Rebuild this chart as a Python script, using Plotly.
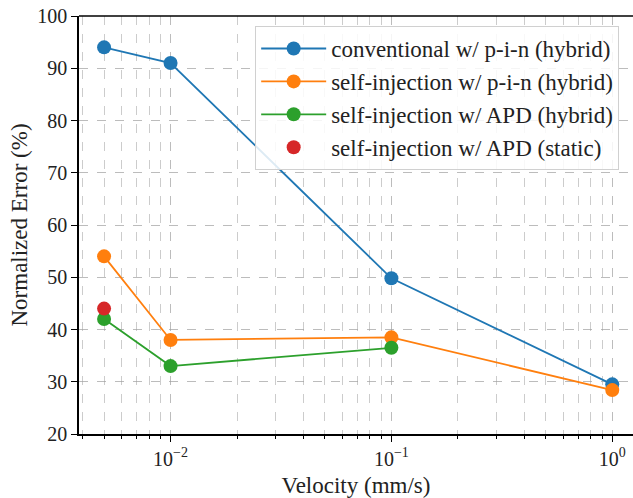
import numpy as np
import plotly.graph_objects as go

# Velocities (mm/s)
velocity = [0.005, 0.01, 0.1, 1.0]
velocity_apd = [0.005, 0.01, 0.1]
velocity_static = [0.005]

# Normalized error (%)
conv_pin_hybrid = [94.0, 91.0, 49.8, 29.5]
si_pin_hybrid = [54.0, 38.0, 38.5, 28.4]
si_apd_hybrid = [42.0, 33.0, 36.5]
si_apd_static = [44.0]

series_labels = [
    "conventional w/ p-i-n (hybrid)",
    "self-injection w/ p-i-n (hybrid)",
    "self-injection w/ APD (hybrid)",
    "self-injection w/ APD (static)",
]
major_ticks = [0.01, 0.1, 1.0]
major_tick_text = ["10<sup>−2</sup>", "10<sup>−1</sup>", "10<sup>0</sup>"]
y_ticks = [20, 30, 40, 50, 60, 70, 80, 90, 100]

colors = ["#1f77b4", "#ff7f0e", "#2ca02c", "#d62728"]
FONT = "Liberation Serif"

fig = go.Figure()
for xs, ys, name, c in [
    (velocity, conv_pin_hybrid, series_labels[0], colors[0]),
    (velocity, si_pin_hybrid, series_labels[1], colors[1]),
    (velocity_apd, si_apd_hybrid, series_labels[2], colors[2]),
]:
    fig.add_trace(go.Scatter(
        x=xs, y=ys, name=name, mode="lines+markers",
        line=dict(color=c, width=1.8),
        marker=dict(color=c, size=14),
    ))
fig.add_trace(go.Scatter(
    x=velocity_static, y=si_apd_static, name=series_labels[3], mode="markers",
    marker=dict(color=colors[3], size=14),
))

# minor ticks at 2..9 of each decade
minor_vals = [m * 10.0 ** e for e in (-3, -2, -1, 0) for m in range(2, 10)]

grid_color = "rgba(160,160,160,0.7)"
fig.update_xaxes(
    type="log",
    range=[np.log10(0.00385), 0.094],
    tickmode="array", tickvals=major_ticks, ticktext=major_tick_text,
    ticks="outside", ticklen=6, tickwidth=1.2, tickcolor="black",
    showline=True, linecolor="black", linewidth=1.5, mirror=False,
    showgrid=True, gridcolor=grid_color, griddash="dash", gridwidth=1,
    minor=dict(tickmode="array", tickvals=minor_vals, ticks="outside",
               ticklen=3.5, tickcolor="black", showgrid=True,
               gridcolor="rgba(170,170,170,0.6)", griddash="dash", gridwidth=0.8),
    tickfont=dict(family=FONT, size=20, color="#222"),
    title=dict(text="Velocity (mm/s)", font=dict(family=FONT, size=23, color="#222"), standoff=11),
    zeroline=False,
)
fig.update_yaxes(
    range=[20, 100],
    tickmode="array", tickvals=y_ticks,
    ticks="outside", ticklen=6, tickwidth=1.2, tickcolor="black",
    showline=True, linecolor="black", linewidth=1.5,
    showgrid=True, gridcolor=grid_color, griddash="dash", gridwidth=1,
    tickfont=dict(family=FONT, size=20, color="#222"),
    title=dict(text="Normalized Error (%)", font=dict(family=FONT, size=23, color="#222"), standoff=3),
    zeroline=False,
)

# top border line of the axes
fig.add_shape(type="line", xref="paper", yref="paper", x0=0, x1=1, y0=1, y1=1,
              line=dict(color="black", width=1.5))

fig.update_layout(
    width=633, height=498,
    margin=dict(l=79, r=0, t=16, b=64),
    plot_bgcolor="white", paper_bgcolor="white",
    showlegend=True,
    legend=dict(
        x=0.318, y=0.976, xanchor="left", yanchor="top",
        bgcolor="rgba(255,255,255,0.85)", bordercolor="#d0d0d0", borderwidth=1,
        font=dict(family=FONT, size=23, color="#222"),
        itemwidth=65, tracegroupgap=0,
    ),
)

fig.write_html("out.html")
